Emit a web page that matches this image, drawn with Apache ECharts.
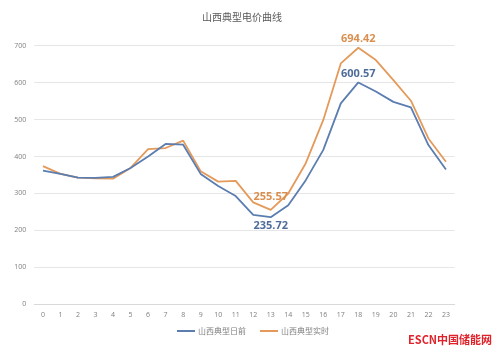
<!DOCTYPE html>
<html><head><meta charset="utf-8">
<script src="https://cdn.jsdelivr.net/npm/echarts@6/dist/echarts.min.js"></script>
<style>html,body{margin:0;padding:0;background:#fff}#c{width:500px;height:356px}</style>
</head><body><div id="c"></div>
<script>
var hours = ['0','1','2','3','4','5','6','7','8','9','10','11','12','13','14','15','16','17','18','19','20','21','22','23'];
var dayAhead = [362,353,343,342,345,369,400,434,432,353,320,293,242,235.72,268,336,418,544,600.57,576,548,533,431,365];
var realTime = [374,353,343,341,340,369,420,423,443,360,332,334,276,255.57,300,382,499,652,694.42,661,607,551,449,386];
var dayAheadLabels = {13:'bottom',18:'top'};
var realTimeLabels = {13:'top',18:'top'};
var names = ['山西典型日前','山西典型实时'];
var colors = ['#5b7db0','#e49a5a'];
var labelColors = ['#4f6d9a','#d98f4f'];
function build(vals, lab, ci){
  return vals.map(function(v,i){
    if(lab[i]) return {value:v,label:{show:true,position:lab[i],formatter:function(p){return p.value.toFixed(2);},color:labelColors[ci],fontWeight:'bold',fontSize:11,fontFamily:'Open Sans',distance:(ci===1&&i===13)?7:3}};
    return v;
  });
}
var chart = echarts.init(document.getElementById('c'));
chart.setOption({
  animation:false,
  title:{text:'山西典型电价曲线',left:237,textAlign:'center',top:7,textStyle:{fontSize:10,fontWeight:'normal',color:'#595959',fontFamily:'Noto Sans CJK SC'}},
  grid:{left:34.2,right:45.3,top:45.7,bottom:51.7},
  legend:{data:names,left:172,top:322,itemWidth:18,itemHeight:2,itemGap:14,icon:'rect',
    textStyle:{fontSize:8,color:'#7f7f7f',fontFamily:'Noto Sans CJK SC',padding:[0,0,0,-2]}},
  xAxis:{type:'category',data:hours,boundaryGap:true,
    axisLine:{lineStyle:{color:'#d9d9d9'}},axisTick:{show:false},
    axisLabel:{color:'#7f7f7f',fontSize:7,margin:7,fontFamily:'Open Sans'}},
  yAxis:{type:'value',min:0,max:700,interval:100,
    axisLine:{show:false},axisTick:{show:false},
    splitLine:{lineStyle:{color:'#e6e6e6'}},
    axisLabel:{color:'#7f7f7f',fontSize:7,margin:8,fontFamily:'Open Sans'}},
  series:[
    {name:names[0],type:'line',data:build(dayAhead,dayAheadLabels,0),showSymbol:true,symbol:'circle',symbolSize:0.1,lineStyle:{width:1.8,color:colors[0]},itemStyle:{color:colors[0]},z:3},
    {name:names[1],type:'line',data:build(realTime,realTimeLabels,1),showSymbol:true,symbol:'circle',symbolSize:0.1,lineStyle:{width:1.8,color:colors[1]},itemStyle:{color:colors[1]},z:2}
  ],
  graphic:[{type:'text',left:408,top:334,style:{text:'ESCN中国储能网',fill:'#e0222a',font:'bold 11px "Noto Sans CJK SC"'}}]
});
</script></body></html>
